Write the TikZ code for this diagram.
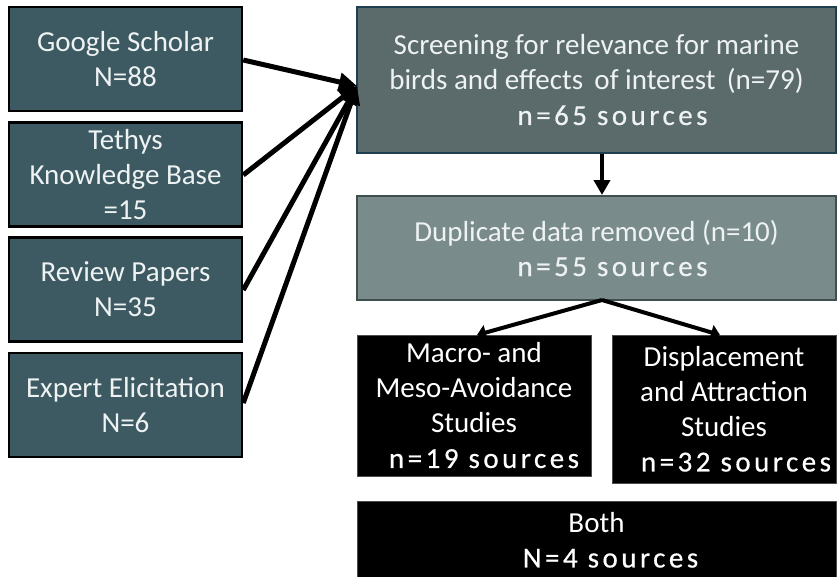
\documentclass[tikz,border=0pt]{standalone}
\usepackage{fontspec}
\setmainfont{Carlito}
\newfontfamily\spaced[LetterSpace=12,FakeBold=0.5]{Carlito}
\usetikzlibrary{arrows.meta}
\definecolor{srcfill}{HTML}{3D5A62}
\definecolor{scrfill}{HTML}{5B6B6B}
\definecolor{scrline}{HTML}{1F3F4F}
\definecolor{dupfill}{HTML}{7A8B8B}
\definecolor{dupline}{HTML}{3F4F4F}
\definecolor{txt}{HTML}{EEF2F2}
\begin{document}
\begin{tikzpicture}[x=1pt,y=-1pt,
  basebox/.style={align=center, inner sep=0pt, text=txt, font=\fontsize{29}{35}\selectfont},
  srcbox/.style={basebox, draw=black, line width=2.5pt, fill=srcfill, minimum width=233pt, minimum height=104pt},
  scrbox/.style={basebox, draw=scrline, line width=2pt, fill=scrfill},
  dupbox/.style={basebox, draw=dupline, line width=2pt, fill=dupfill},
  blkbox/.style={basebox, fill=black, draw=black!70, line width=0.8pt, text=white},
  bigarrow/.style={line width=5pt, -{Triangle[length=18pt,width=18pt]}},
  midarrow/.style={line width=4pt, -{Triangle[length=15pt,width=16pt]}},
  smallarrow/.style={line width=4pt, -{Triangle[length=9pt,width=15pt]}}]
\useasboundingbox (0,0) rectangle (837,576);

\node[srcbox] (gs) at (125.5,59) {Google Scholar\\N=88};
\node[srcbox] (tk) at (125.5,174.5) {Tethys\\Knowledge Base\\=15};
\node[srcbox] (rp) at (125.5,289.5) {Review Papers\\N=35};
\node[srcbox] (ee) at (125.5,405) {Expert Elicitation\\N=6};

\node[scrbox, minimum width=479pt, minimum height=146pt] (scr) at (596.5,80)
  {Screening for relevance for marine\\birds and effects\, of interest\, (n=79)\\\hspace*{32pt}{\spaced n=65 sources}};
\node[dupbox, minimum width=479pt, minimum height=104pt] (dup) at (596.5,248)
  {Duplicate data removed (n=10)\\\hspace*{32pt}{\spaced n=55 sources}};

\node[blkbox, minimum width=234pt, minimum height=141pt] (mac) at (474,405.5)
  {Macro- and\\Meso-Avoidance\\Studies\\\hspace*{20pt}{\spaced n=19 sources}};
\node[blkbox, minimum width=224pt, minimum height=148pt] (dis) at (724,409)
  {Displacement\\and Attraction\\Studies\\\hspace*{24pt}{\spaced n=32 sources}};
\node[blkbox, minimum width=479pt, minimum height=78pt] (both) at (596.5,540)
  {Both\\\hspace*{28pt}{\spaced N=4 sources}};

\coordinate (conv) at (357,86);
\draw[bigarrow] (gs.east |- 0,60) -- (conv);
\draw[bigarrow] (tk.east |- 0,175) -- (conv);
\draw[bigarrow] (rp.east |- 0,290) -- (conv);
\draw[bigarrow] (ee.east |- 0,403) -- (conv);

\draw[midarrow] (scr.south -| 602,0) -- (dup.north -| 602,0);
\coordinate (split) at (602,300);
\draw[smallarrow] (split) -- (477,335);
\draw[smallarrow] (split) -- (720,335);
\end{tikzpicture}
\end{document}
